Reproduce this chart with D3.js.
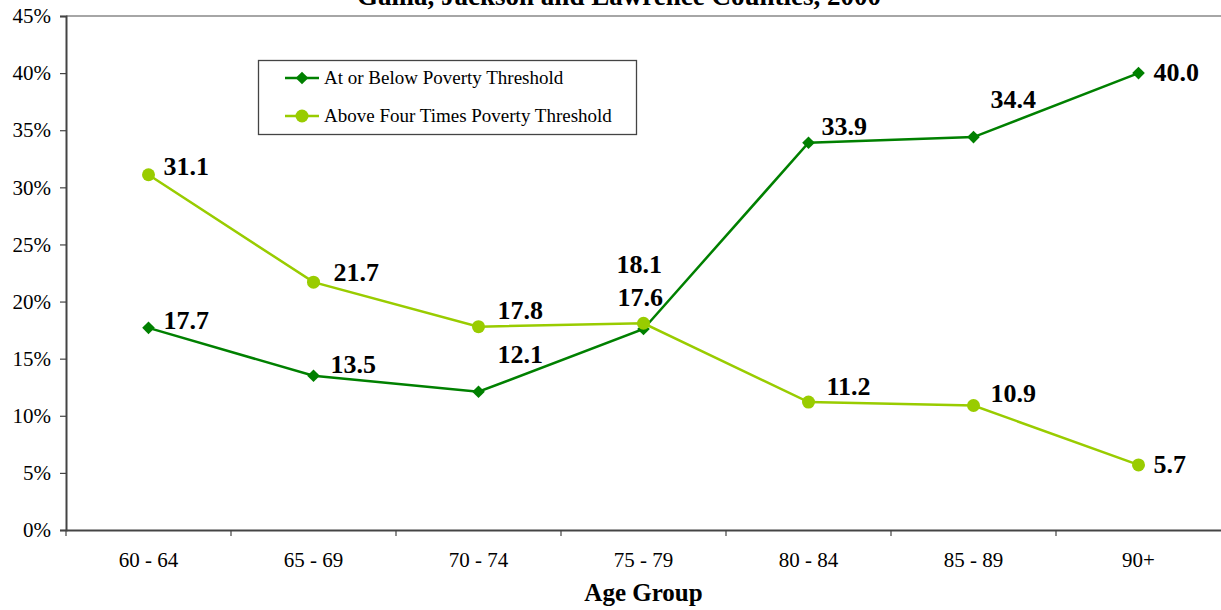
<!DOCTYPE html>
<html>
<head>
<meta charset="utf-8">
<script src="https://cdn.jsdelivr.net/npm/d3@7"></script>
<style>
  body { margin: 0; background: #fff; }
  text { font-family: "Liberation Serif", "Times New Roman", serif; }
</style>
</head>
<body>
<script>
// chart data
var ageGroups = ["60 - 64", "65 - 69", "70 - 74", "75 - 79", "80 - 84", "85 - 89", "90+"];
var belowPoverty = [17.7, 13.5, 12.1, 17.6, 33.9, 34.4, 40.0];
var aboveFourTimes = [31.1, 21.7, 17.8, 18.1, 11.2, 10.9, 5.7];
var yTicks = [0, 5, 10, 15, 20, 25, 30, 35, 40, 45];
var seriesNames = ["At or Below Poverty Threshold", "Above Four Times Poverty Threshold"];
var title = "Gallia, Jackson and Lawrence Counties, 2000";

// label nudges (dx, dy from the point)
var belowNudge = [[15, 1], [17, -3], [19, -29], [-26, -23], [13, -8], [17, -29], [15, 8]];
var aboveNudge = [[15, 0], [20, -1], [19, -8], [-27, -50], [18, -7], [17, -3], [15, 8]];

var width = 1221, height = 610;
var margin = {top: 16, right: 0, bottom: 80, left: 66};
var serif = "'Liberation Serif', 'Times New Roman', serif";

var svg = d3.select("body").append("svg")
    .attr("width", width)
    .attr("height", height);

var x = d3.scaleBand()
    .domain(ageGroups)
    .range([margin.left, width - margin.right]);

var y = d3.scaleLinear()
    .domain([0, 45])
    .range([height - margin.bottom, margin.top]);

// title (clipped at top in the original)
svg.append("text")
    .attr("x", 619)
    .attr("y", 5)
    .attr("text-anchor", "middle")
    .style("font-size", "27px")
    .style("font-weight", "bold")
    .text(title);

// plot top border
svg.append("line")
    .attr("x1", margin.left).attr("x2", width)
    .attr("y1", y(45)).attr("y2", y(45))
    .attr("stroke", "#888").attr("stroke-width", 1.5);

// y axis
var yAxis = d3.axisLeft(y)
    .tickValues(yTicks)
    .tickSize(6)
    .tickPadding(9)
    .tickFormat(function(d) { return d + "%"; });

var gy = svg.append("g")
    .attr("transform", "translate(" + margin.left + ",0)")
    .call(yAxis);
gy.select(".domain").attr("stroke", "#444").attr("stroke-width", 2);
gy.selectAll(".tick line").attr("stroke", "#444").attr("stroke-width", 1.2);
gy.selectAll(".tick text")
    .style("font-size", "21px")
    .style("font-family", serif)
    .attr("fill", "#000");

// x axis: ticks between bands
var xAxis = d3.axisBottom(x).tickSize(0).tickPadding(22);
var gx = svg.append("g")
    .attr("transform", "translate(0," + y(0) + ")")
    .call(xAxis);
gx.select(".domain").attr("stroke", "#444").attr("stroke-width", 2);
gx.selectAll(".tick text")
    .style("font-size", "21px")
    .style("font-family", serif)
    .attr("fill", "#000");
gx.selectAll(".sep")
    .data(ageGroups)
    .enter().append("line")
    .attr("x1", function(d) { return x(d); })
    .attr("x2", function(d) { return x(d); })
    .attr("y1", 0).attr("y2", 6)
    .attr("stroke", "#444").attr("stroke-width", 1.2);

// axis title
svg.append("text")
    .attr("x", (margin.left + width) / 2)
    .attr("y", 601)
    .attr("text-anchor", "middle")
    .style("font-size", "25px")
    .style("font-weight", "bold")
    .text("Age Group");

var cx = function(d, i) { return x(ageGroups[i]) + x.bandwidth() / 2; };
var line = d3.line()
    .x(function(d, i) { return cx(d, i); })
    .y(function(d) { return y(d); });

var darkGreen = "#008000", lightGreen = "#99cc00";

// light green series
svg.append("path")
    .datum(aboveFourTimes)
    .attr("d", line)
    .attr("fill", "none")
    .attr("stroke", lightGreen)
    .attr("stroke-width", 2.5);

// dark green series
svg.append("path")
    .datum(belowPoverty)
    .attr("d", line)
    .attr("fill", "none")
    .attr("stroke", darkGreen)
    .attr("stroke-width", 2.5);

var diamond = d3.symbol().type(d3.symbolSquare).size(80);

svg.selectAll(".dia")
    .data(belowPoverty)
    .enter().append("path")
    .attr("d", diamond)
    .attr("transform", function(d, i) {
        return "translate(" + cx(d, i) + "," + y(d) + ") rotate(45)";
    })
    .attr("fill", darkGreen);

svg.selectAll(".dot")
    .data(aboveFourTimes)
    .enter().append("circle")
    .attr("cx", cx)
    .attr("cy", function(d) { return y(d); })
    .attr("r", 6.5)
    .attr("fill", lightGreen);

// value labels
function addLabels(vals, nudge) {
    svg.append("g").selectAll("text")
        .data(vals)
        .enter().append("text")
        .attr("x", function(d, i) { return cx(d, i) + nudge[i][0]; })
        .attr("y", function(d, i) { return y(d) + nudge[i][1]; })
        .style("font-size", "26px")
        .style("font-weight", "bold")
        .text(function(d) { return d.toFixed(1); });
}
addLabels(belowPoverty, belowNudge);
addLabels(aboveFourTimes, aboveNudge);

// legend
var legend = svg.append("g").attr("transform", "translate(258,60)");
legend.append("rect")
    .attr("x", 0.5).attr("y", 0.5)
    .attr("width", 378).attr("height", 74)
    .attr("fill", "#fff")
    .attr("stroke", "#444").attr("stroke-width", 1.3);

var rows = legend.selectAll(".row")
    .data(seriesNames)
    .enter().append("g")
    .attr("transform", function(d, i) { return "translate(0," + (18 + i * 38) + ")"; });

rows.append("line")
    .attr("x1", 27).attr("x2", 61)
    .attr("y1", 0).attr("y2", 0)
    .attr("stroke", function(d, i) { return i ? lightGreen : darkGreen; })
    .attr("stroke-width", 2.5);

rows.each(function(d, i) {
    var g = d3.select(this);
    if (i === 0) {
        g.append("path").attr("d", diamond)
            .attr("transform", "translate(44,0) rotate(45)")
            .attr("fill", darkGreen);
    } else {
        g.append("circle").attr("cx", 44).attr("cy", 0).attr("r", 6.5)
            .attr("fill", lightGreen);
    }
});

rows.append("text")
    .attr("x", 66)
    .attr("y", 6)
    .style("font-size", "19px")
    .text(function(d) { return d; });
</script>
</body>
</html>
